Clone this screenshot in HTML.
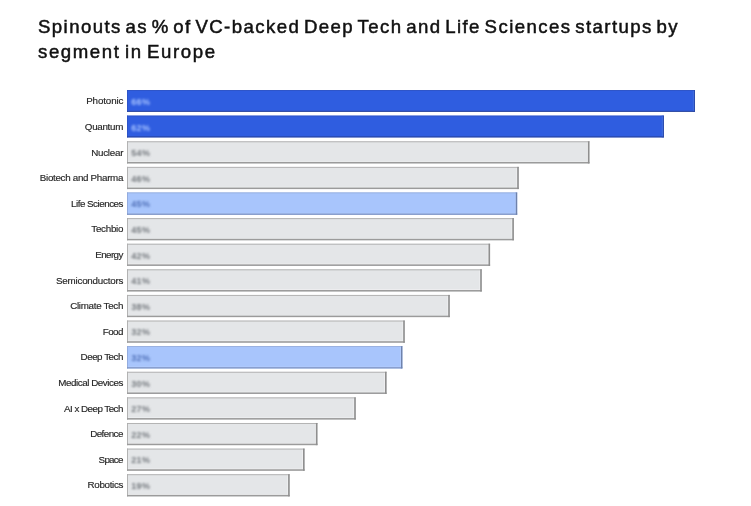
<!DOCTYPE html>
<html><head><meta charset="utf-8"><title>Spinouts</title>
<style>
html,body{margin:0;padding:0;background:#fff;}
body{width:751px;height:506px;position:relative;overflow:hidden;font-family:"Liberation Sans",sans-serif;}
h1{position:absolute;left:38px;top:15.2px;margin:0;font-size:18.6px;line-height:24.4px;font-weight:normal;color:#111;-webkit-text-stroke:0.5px #111;white-space:nowrap;}
h1 .a{letter-spacing:1.43px;word-spacing:-2.9px;}
h1 .b{letter-spacing:1.6px;word-spacing:-2.3px;}
.lab{position:absolute;right:627.2px;text-align:right;height:22px;line-height:21px;font-size:9.8px;color:#2a2a2a;white-space:nowrap;}
svg{position:absolute;left:0;top:0;}
svg text.lb{font-family:"Liberation Sans",sans-serif;font-size:9.8px;font-weight:normal;letter-spacing:0;fill:#262626;stroke:#262626;stroke-width:0.15px;}
svg text.v{font-family:"Liberation Sans",sans-serif;font-size:9px;font-weight:bold;letter-spacing:0.3px;}
</style></head><body>
<h1><span class="a">Spinouts as % of VC-backed Deep Tech and Life Sciences startups by</span><br><span class="b">segment in Europe</span></h1>
<svg width="751" height="506" viewBox="0 0 751 506">
<defs><filter id="bl" x="-20%" y="-50%" width="140%" height="200%"><feGaussianBlur stdDeviation="0.95"/></filter></defs>
<rect x="127.00" y="90.05" width="568.00" height="21.70" fill="#2f5de0"/>
<rect x="692.80" y="90.05" width="1.40" height="21.70" fill="#3f6bdc"/>
<rect x="127.00" y="90.05" width="568.00" height="0.70" fill="#2b50bd"/>
<rect x="127.00" y="90.05" width="0.70" height="21.70" fill="#2b50bd"/>
<rect x="127.00" y="110.85" width="568.00" height="0.90" fill="#263f93"/>
<rect x="694.20" y="90.05" width="0.80" height="21.70" fill="#2a47a3"/>
<text class="v" x="131.3" y="104.95" fill="#a6c2ff" filter="url(#bl)">66%</text>
<rect x="127.00" y="115.66" width="536.90" height="21.70" fill="#2f5de0"/>
<rect x="661.70" y="115.66" width="1.40" height="21.70" fill="#3f6bdc"/>
<rect x="127.00" y="115.66" width="536.90" height="0.70" fill="#2b50bd"/>
<rect x="127.00" y="115.66" width="0.70" height="21.70" fill="#2b50bd"/>
<rect x="127.00" y="136.46" width="536.90" height="0.90" fill="#263f93"/>
<rect x="663.10" y="115.66" width="0.80" height="21.70" fill="#2a47a3"/>
<text class="v" x="131.3" y="130.56" fill="#a6c2ff" filter="url(#bl)">62%</text>
<rect x="127.00" y="141.27" width="462.50" height="22.20" fill="#e4e6e8"/>
<rect x="587.10" y="141.27" width="0.80" height="22.20" fill="#f0f1f2"/>
<rect x="127.00" y="161.27" width="462.50" height="0.70" fill="#f0f1f2"/>
<rect x="127.00" y="141.27" width="462.50" height="1.00" fill="#b3b3b3"/>
<rect x="127.00" y="141.27" width="0.90" height="22.20" fill="#adadad"/>
<rect x="127.00" y="161.97" width="462.50" height="1.50" fill="#9b9b9b"/>
<rect x="587.90" y="141.27" width="1.60" height="22.20" fill="#8f8f8f"/>
<text class="v" x="131.3" y="156.17" fill="#74797e" filter="url(#bl)">54%</text>
<rect x="127.00" y="166.88" width="391.80" height="22.20" fill="#e4e6e8"/>
<rect x="516.40" y="166.88" width="0.80" height="22.20" fill="#f0f1f2"/>
<rect x="127.00" y="186.88" width="391.80" height="0.70" fill="#f0f1f2"/>
<rect x="127.00" y="166.88" width="391.80" height="1.00" fill="#b3b3b3"/>
<rect x="127.00" y="166.88" width="0.90" height="22.20" fill="#adadad"/>
<rect x="127.00" y="187.58" width="391.80" height="1.50" fill="#9b9b9b"/>
<rect x="517.20" y="166.88" width="1.60" height="22.20" fill="#8f8f8f"/>
<text class="v" x="131.3" y="181.78" fill="#74797e" filter="url(#bl)">46%</text>
<rect x="127.00" y="192.49" width="390.20" height="22.30" fill="#a8c5fc"/>
<rect x="515.00" y="192.49" width="0.80" height="22.30" fill="#b6cefd"/>
<rect x="127.00" y="212.89" width="390.20" height="0.70" fill="#b6cefd"/>
<rect x="127.00" y="192.49" width="390.20" height="0.80" fill="#94abd9"/>
<rect x="127.00" y="192.49" width="0.80" height="22.30" fill="#8fa6d6"/>
<rect x="127.00" y="213.59" width="390.20" height="1.20" fill="#7d92c0"/>
<rect x="515.80" y="192.49" width="1.40" height="22.30" fill="#6f82ab"/>
<text class="v" x="131.3" y="207.39" fill="#5070b8" filter="url(#bl)">45%</text>
<rect x="127.00" y="218.10" width="386.90" height="22.20" fill="#e4e6e8"/>
<rect x="511.50" y="218.10" width="0.80" height="22.20" fill="#f0f1f2"/>
<rect x="127.00" y="238.10" width="386.90" height="0.70" fill="#f0f1f2"/>
<rect x="127.00" y="218.10" width="386.90" height="1.00" fill="#b3b3b3"/>
<rect x="127.00" y="218.10" width="0.90" height="22.20" fill="#adadad"/>
<rect x="127.00" y="238.80" width="386.90" height="1.50" fill="#9b9b9b"/>
<rect x="512.30" y="218.10" width="1.60" height="22.20" fill="#8f8f8f"/>
<text class="v" x="131.3" y="233.00" fill="#74797e" filter="url(#bl)">45%</text>
<rect x="127.00" y="243.71" width="363.10" height="22.20" fill="#e4e6e8"/>
<rect x="487.70" y="243.71" width="0.80" height="22.20" fill="#f0f1f2"/>
<rect x="127.00" y="263.71" width="363.10" height="0.70" fill="#f0f1f2"/>
<rect x="127.00" y="243.71" width="363.10" height="1.00" fill="#b3b3b3"/>
<rect x="127.00" y="243.71" width="0.90" height="22.20" fill="#adadad"/>
<rect x="127.00" y="264.41" width="363.10" height="1.50" fill="#9b9b9b"/>
<rect x="488.50" y="243.71" width="1.60" height="22.20" fill="#8f8f8f"/>
<text class="v" x="131.3" y="258.61" fill="#74797e" filter="url(#bl)">42%</text>
<rect x="127.00" y="269.32" width="354.80" height="22.20" fill="#e4e6e8"/>
<rect x="479.40" y="269.32" width="0.80" height="22.20" fill="#f0f1f2"/>
<rect x="127.00" y="289.32" width="354.80" height="0.70" fill="#f0f1f2"/>
<rect x="127.00" y="269.32" width="354.80" height="1.00" fill="#b3b3b3"/>
<rect x="127.00" y="269.32" width="0.90" height="22.20" fill="#adadad"/>
<rect x="127.00" y="290.02" width="354.80" height="1.50" fill="#9b9b9b"/>
<rect x="480.20" y="269.32" width="1.60" height="22.20" fill="#8f8f8f"/>
<text class="v" x="131.3" y="284.22" fill="#74797e" filter="url(#bl)">41%</text>
<rect x="127.00" y="294.93" width="322.80" height="22.20" fill="#e4e6e8"/>
<rect x="447.40" y="294.93" width="0.80" height="22.20" fill="#f0f1f2"/>
<rect x="127.00" y="314.93" width="322.80" height="0.70" fill="#f0f1f2"/>
<rect x="127.00" y="294.93" width="322.80" height="1.00" fill="#b3b3b3"/>
<rect x="127.00" y="294.93" width="0.90" height="22.20" fill="#adadad"/>
<rect x="127.00" y="315.63" width="322.80" height="1.50" fill="#9b9b9b"/>
<rect x="448.20" y="294.93" width="1.60" height="22.20" fill="#8f8f8f"/>
<text class="v" x="131.3" y="309.83" fill="#74797e" filter="url(#bl)">38%</text>
<rect x="127.00" y="320.54" width="277.80" height="22.20" fill="#e4e6e8"/>
<rect x="402.40" y="320.54" width="0.80" height="22.20" fill="#f0f1f2"/>
<rect x="127.00" y="340.54" width="277.80" height="0.70" fill="#f0f1f2"/>
<rect x="127.00" y="320.54" width="277.80" height="1.00" fill="#b3b3b3"/>
<rect x="127.00" y="320.54" width="0.90" height="22.20" fill="#adadad"/>
<rect x="127.00" y="341.24" width="277.80" height="1.50" fill="#9b9b9b"/>
<rect x="403.20" y="320.54" width="1.60" height="22.20" fill="#8f8f8f"/>
<text class="v" x="131.3" y="335.44" fill="#74797e" filter="url(#bl)">32%</text>
<rect x="127.00" y="346.15" width="275.40" height="22.30" fill="#a8c5fc"/>
<rect x="400.20" y="346.15" width="0.80" height="22.30" fill="#b6cefd"/>
<rect x="127.00" y="366.55" width="275.40" height="0.70" fill="#b6cefd"/>
<rect x="127.00" y="346.15" width="275.40" height="0.80" fill="#94abd9"/>
<rect x="127.00" y="346.15" width="0.80" height="22.30" fill="#8fa6d6"/>
<rect x="127.00" y="367.25" width="275.40" height="1.20" fill="#7d92c0"/>
<rect x="401.00" y="346.15" width="1.40" height="22.30" fill="#6f82ab"/>
<text class="v" x="131.3" y="361.05" fill="#5070b8" filter="url(#bl)">32%</text>
<rect x="127.00" y="371.76" width="259.60" height="22.20" fill="#e4e6e8"/>
<rect x="384.20" y="371.76" width="0.80" height="22.20" fill="#f0f1f2"/>
<rect x="127.00" y="391.76" width="259.60" height="0.70" fill="#f0f1f2"/>
<rect x="127.00" y="371.76" width="259.60" height="1.00" fill="#b3b3b3"/>
<rect x="127.00" y="371.76" width="0.90" height="22.20" fill="#adadad"/>
<rect x="127.00" y="392.46" width="259.60" height="1.50" fill="#9b9b9b"/>
<rect x="385.00" y="371.76" width="1.60" height="22.20" fill="#8f8f8f"/>
<text class="v" x="131.3" y="386.66" fill="#74797e" filter="url(#bl)">30%</text>
<rect x="127.00" y="397.37" width="228.80" height="22.20" fill="#e4e6e8"/>
<rect x="353.40" y="397.37" width="0.80" height="22.20" fill="#f0f1f2"/>
<rect x="127.00" y="417.37" width="228.80" height="0.70" fill="#f0f1f2"/>
<rect x="127.00" y="397.37" width="228.80" height="1.00" fill="#b3b3b3"/>
<rect x="127.00" y="397.37" width="0.90" height="22.20" fill="#adadad"/>
<rect x="127.00" y="418.07" width="228.80" height="1.50" fill="#9b9b9b"/>
<rect x="354.20" y="397.37" width="1.60" height="22.20" fill="#8f8f8f"/>
<text class="v" x="131.3" y="412.27" fill="#74797e" filter="url(#bl)">27%</text>
<rect x="127.00" y="422.98" width="190.50" height="22.20" fill="#e4e6e8"/>
<rect x="315.10" y="422.98" width="0.80" height="22.20" fill="#f0f1f2"/>
<rect x="127.00" y="442.98" width="190.50" height="0.70" fill="#f0f1f2"/>
<rect x="127.00" y="422.98" width="190.50" height="1.00" fill="#b3b3b3"/>
<rect x="127.00" y="422.98" width="0.90" height="22.20" fill="#adadad"/>
<rect x="127.00" y="443.68" width="190.50" height="1.50" fill="#9b9b9b"/>
<rect x="315.90" y="422.98" width="1.60" height="22.20" fill="#8f8f8f"/>
<text class="v" x="131.3" y="437.88" fill="#74797e" filter="url(#bl)">22%</text>
<rect x="127.00" y="448.59" width="177.60" height="22.20" fill="#e4e6e8"/>
<rect x="302.20" y="448.59" width="0.80" height="22.20" fill="#f0f1f2"/>
<rect x="127.00" y="468.59" width="177.60" height="0.70" fill="#f0f1f2"/>
<rect x="127.00" y="448.59" width="177.60" height="1.00" fill="#b3b3b3"/>
<rect x="127.00" y="448.59" width="0.90" height="22.20" fill="#adadad"/>
<rect x="127.00" y="469.29" width="177.60" height="1.50" fill="#9b9b9b"/>
<rect x="303.00" y="448.59" width="1.60" height="22.20" fill="#8f8f8f"/>
<text class="v" x="131.3" y="463.49" fill="#74797e" filter="url(#bl)">21%</text>
<rect x="127.00" y="474.20" width="162.70" height="22.20" fill="#e4e6e8"/>
<rect x="287.30" y="474.20" width="0.80" height="22.20" fill="#f0f1f2"/>
<rect x="127.00" y="494.20" width="162.70" height="0.70" fill="#f0f1f2"/>
<rect x="127.00" y="474.20" width="162.70" height="1.00" fill="#b3b3b3"/>
<rect x="127.00" y="474.20" width="0.90" height="22.20" fill="#adadad"/>
<rect x="127.00" y="494.90" width="162.70" height="1.50" fill="#9b9b9b"/>
<rect x="288.10" y="474.20" width="1.60" height="22.20" fill="#8f8f8f"/>
<text class="v" x="131.3" y="489.10" fill="#74797e" filter="url(#bl)">19%</text>
<text class="lb" x="123.4" y="104.30" text-anchor="end" textLength="37.2" lengthAdjust="spacing">Photonic</text>
<text class="lb" x="123.4" y="129.91" text-anchor="end" textLength="38.6" lengthAdjust="spacing">Quantum</text>
<text class="lb" x="123.4" y="155.52" text-anchor="end" textLength="32.2" lengthAdjust="spacing">Nuclear</text>
<text class="lb" x="123.4" y="181.13" text-anchor="end" textLength="83.6" lengthAdjust="spacing">Biotech and Pharma</text>
<text class="lb" x="123.4" y="206.74" text-anchor="end" textLength="52.4" lengthAdjust="spacing">Life Sciences</text>
<text class="lb" x="123.4" y="232.35" text-anchor="end" textLength="32.1" lengthAdjust="spacing">Techbio</text>
<text class="lb" x="123.4" y="257.96" text-anchor="end" textLength="28.2" lengthAdjust="spacing">Energy</text>
<text class="lb" x="123.4" y="283.57" text-anchor="end" textLength="67.4" lengthAdjust="spacing">Semiconductors</text>
<text class="lb" x="123.4" y="309.18" text-anchor="end" textLength="53.2" lengthAdjust="spacing">Climate Tech</text>
<text class="lb" x="123.4" y="334.79" text-anchor="end" textLength="20.6" lengthAdjust="spacing">Food</text>
<text class="lb" x="123.4" y="360.40" text-anchor="end" textLength="42.8" lengthAdjust="spacing">Deep Tech</text>
<text class="lb" x="123.4" y="386.01" text-anchor="end" textLength="65.2" lengthAdjust="spacing">Medical Devices</text>
<text class="lb" x="123.4" y="411.62" text-anchor="end" textLength="59.3" lengthAdjust="spacing">AI x Deep Tech</text>
<text class="lb" x="123.4" y="437.23" text-anchor="end" textLength="33.2" lengthAdjust="spacing">Defence</text>
<text class="lb" x="123.4" y="462.84" text-anchor="end" textLength="24.8" lengthAdjust="spacing">Space</text>
<text class="lb" x="123.4" y="488.45" text-anchor="end" textLength="35.8" lengthAdjust="spacing">Robotics</text>
</svg>
</body></html>
